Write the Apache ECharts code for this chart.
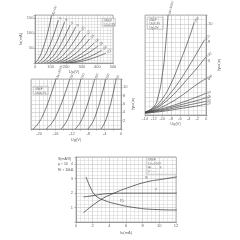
<!DOCTYPE html>
<html>
<head>
<meta charset="utf-8">
<script src="https://cdn.jsdelivr.net/npm/echarts@6/dist/echarts.min.js"></script>
<style>
html, body { margin: 0; background: #fff; }
#chart { width: 240px; height: 240px; }
</style>
</head>
<body>
<div id="chart"></div>
<script>
// --- chart 1: Ia = f(Ua), one curve per grid voltage
var names1 = ['Ug=0V', '-2', '-4', '-6', '-8', '-10', '-12', '-14', '-16', '-18', '-20', '-22'];
var ua1 = [
    [0, 26, 53, 80, 106],
    [18, 51, 84, 117, 150],
    [38, 76, 114, 152, 190],
    [58, 100, 142, 183, 225],
    [78, 124, 169, 215, 260],
    [100, 148, 195, 243, 290],
    [120, 171, 223, 274, 325],
    [140, 193, 245, 298, 350],
    [162, 217, 271, 326, 380],
    [182, 238, 294, 349, 405],
    [204, 261, 317, 374, 430],
    [225, 283, 340, 398, 455]
];
var ia1 = [
    [0, 17, 52, 99, 157],
    [0, 16, 47, 90, 143],
    [0, 15, 45, 86, 137],
    [0, 14, 42, 80, 127],
    [0, 13, 40, 76, 120],
    [0, 12, 35, 67, 107],
    [0, 10, 31, 59, 93],
    [0, 9, 26, 50, 80],
    [0, 7, 22, 42, 67],
    [0, 6, 19, 36, 57],
    [0, 5, 14, 27, 43],
    [0, 4, 11, 21, 33]
];

// --- chart 2: Ia = f(Ug), one curve per anode voltage
var names2 = ['Ua=300V', '250', '200', '150', '100', '80', '60', '40', '20'];
var ug2 = [
    [-14, -12, -11, -10, -9.3, -8.7],
    [-14, -12, -10, -8, -6, -4, -2.7],
    [-14, -12, -10, -8, -6, -4, -2, -0.3],
    [-14, -12, -10, -8, -6, -4, -2, 0],
    [-14, -12, -10, -8, -6, -4, -2, 0],
    [-14, -10, -6, -2, 0],
    [-14, -10, -6, -2, 0],
    [-14, -10, -6, -2, 0],
    [-14, -10, -6, -2, 0]
];
var ia2 = [
    [0.3, 0.9, 2.0, 4.5, 7.5, 11],
    [0.3, 0.8, 1.8, 3.5, 5.8, 8.3, 10.2],
    [0.3, 0.7, 1.4, 2.5, 3.8, 5.3, 6.9, 8.3],
    [0.3, 0.6, 1.2, 2.0, 3.0, 4.1, 5.2, 6.4],
    [0.3, 0.5, 0.9, 1.4, 2.0, 2.7, 3.4, 4.0],
    [0.25, 0.7, 1.3, 2.0, 2.4],
    [0.25, 0.6, 1.1, 1.6, 1.9],
    [0.2, 0.5, 0.9, 1.3, 1.5],
    [0.2, 0.4, 0.7, 1.0, 1.2]
];

// --- chart 3: Ia = f(Ug), steep family
var names3 = ['Ua=300V', '250', '200', '150', '100', '50'];
var ug3 = [
    [-21.5, -20.1, -18.7, -17.3, -15.9],
    [-18.3, -16.85, -15.4, -13.95, -12.5],
    [-14.7, -13.5, -12.25, -11.0, -9.8],
    [-11.2, -10.0, -8.8, -7.6, -6.4],
    [-8.1, -7.0, -5.9, -4.8, -3.7],
    [-4.9, -4.0, -3.05, -2.1, -1.2]
];
var ia3 = [
    [0, 1.5, 4.2, 7.8, 12],
    [0, 1.5, 4.2, 7.8, 12],
    [0, 1.5, 4.2, 7.8, 12],
    [0, 1.5, 4.2, 7.8, 12],
    [0, 1.5, 4.2, 7.8, 12],
    [0, 1.5, 4.2, 7.8, 12]
];

// --- chart 4: S, mu, Ri = f(Ia)
var iaS = [0.9, 2.9, 4.5, 6.5, 8.5, 10.1, 12.1];
var valS = [0.64, 1.52, 1.98, 2.43, 2.78, 2.94, 3.12];
var iaMu = [0.9, 2, 3, 4, 6, 8, 10, 12.1];
var valMu = [1.74, 1.82, 1.92, 1.97, 2.0, 2.0, 2.0, 2.0];
var iaRi = [1.2, 1.7, 2.3, 3.3, 4.9, 6.9, 9.3, 12.1];
var valRi = [3.12, 2.43, 1.86, 1.52, 1.24, 1.01, 0.87, 0.83];

var LINE = '#444';
var TXT = '#6a6a6a';

function pairs(xs, ys) {
    return xs.map(function (x, j) { return [x, ys[j]]; });
}

function axis(idx, min, max, interval, minorSplit, extra) {
    var a = {
        type: 'value',
        gridIndex: idx,
        min: min,
        max: max,
        interval: interval,
        axisLine: { show: true, lineStyle: { color: '#888', width: 0.7 } },
        axisTick: { show: true, length: 1.5, lineStyle: { color: '#888', width: 0.6 } },
        axisLabel: { fontSize: 4, color: TXT, margin: 2 },
        splitLine: { show: true, lineStyle: { color: '#b4b4b4', width: 0.5 } },
        minorTick: { show: false, splitNumber: minorSplit },
        minorSplitLine: { show: true, lineStyle: { color: '#d2d2d2', width: 0.5 } },
        nameTextStyle: { fontSize: 4, color: TXT },
        nameLocation: 'middle'
    };
    for (var k in extra) a[k] = extra[k];
    return a;
}

function family(gridIdx, xs, ys, names, rot) {
    return xs.map(function (x, i) {
        return {
            type: 'line',
            xAxisIndex: gridIdx,
            yAxisIndex: gridIdx,
            smooth: true,
            showSymbol: false,
            silent: true,
            data: pairs(x, ys[i]),
            lineStyle: { color: LINE, width: 0.7 },
            endLabel: {
                show: true,
                formatter: names[i],
                fontSize: 3.5,
                color: TXT,
                rotate: rot[i],
                distance: 1
            }
        };
    });
}

var rot1 = [70, 65, 65, 60, 60, 55, 55, 50, 50, 45, 45, 40];
var rot2 = [75, 60, 50, 40, 30, 15, 15, 15, 15];
var rot3 = [70, 70, 70, 70, 70, 70];

var series = []
    .concat(family(0, ua1, ia1, names1, rot1))
    .concat(family(1, ug2, ia2, names2, rot2))
    .concat(family(2, ug3, ia3, names3, rot3));

[[iaS, valS], [iaMu, valMu], [iaRi, valRi]].forEach(function (s) {
    series.push({
        type: 'line',
        xAxisIndex: 3,
        yAxisIndex: 3,
        smooth: true,
        showSymbol: false,
        silent: true,
        data: pairs(s[0], s[1]),
        lineStyle: { color: LINE, width: 0.8 }
    });
});

function box(x, y, w, h, lines) {
    return {
        type: 'group',
        left: x, top: y,
        children: [
            { type: 'rect', shape: { width: w, height: h }, style: { fill: '#fff', stroke: '#999', lineWidth: 0.5 } },
            { type: 'text', left: 2, top: 1.5, style: { text: lines.join('\n'), fontSize: 3, lineHeight: 3.6, fill: '#555' } }
        ]
    };
}

function noZero(max) {
    return function (v) { return v && v <= max ? v : ''; };
}

var option = {
    backgroundColor: '#fff',
    animation: false,
    grid: [
        { left: 35, top: 15, width: 78, height: 48, show: true, borderColor: '#888', borderWidth: 0.6 },
        { left: 145, top: 15, width: 61, height: 100, show: true, borderColor: '#888', borderWidth: 0.6 },
        { left: 31, top: 79, width: 90, height: 50, show: true, borderColor: '#888', borderWidth: 0.6 },
        { left: 76, top: 157, width: 100, height: 65, show: true, borderColor: '#888', borderWidth: 0.6 }
    ],
    xAxis: [
        axis(0, 0, 500, 100, 5, { name: 'Ua(V)', nameGap: 6 }),
        axis(1, -14, 0, 2, 2, { name: 'Ug(V)', nameGap: 7 }),
        axis(2, -22, 0, 2, 2, {
            name: 'Ug(V)', nameGap: 9,
            axisLabel: { fontSize: 4, color: TXT, margin: 3, formatter: function (v) { return v % 4 === 0 ? v : ''; } }
        }),
        axis(3, 0, 12, 2, 4, { name: 'Ia(mA)', nameGap: 9 })
    ],
    yAxis: [
        axis(0, 0, 160, 50, 5, {
            name: 'Ia(mA)', nameGap: 9,
            axisLabel: { fontSize: 4, color: TXT, margin: 1.5, formatter: noZero(150) }
        }),
        axis(1, 0, 11, 2, 4, {
            position: 'right', name: 'Ia(mA)', nameGap: 11, nameRotate: -90,
            axisLabel: { fontSize: 4, color: TXT, margin: 2, formatter: noZero(10) }
        }),
        axis(2, 0, 12, 2, 2, {
            position: 'right', name: 'Ia(mA)', nameGap: 10, nameRotate: -90,
            axisLabel: { fontSize: 4, color: TXT, margin: 2, formatter: noZero(10) }
        }),
        axis(3, 0, 4.5, 1, 4, {
            axisLabel: { fontSize: 4, color: TXT, margin: 3, formatter: noZero(4) }
        })
    ],
    series: series,
    graphic: [
        box(102, 18, 13, 8, ['6N6P', 'Uf=6.3V']),
        box(147, 17, 16, 12, ['6N6P', 'Uf=6.3V', 'Ug=0V']),
        box(33, 86, 15, 8, ['6N6P', 'Uf=6.3V']),
        box(146, 157, 30, 17, ['6N6P', 'Ua=250V', 'Ri ——  S', 'μ ——']),
        { type: 'text', left: 58, top: 156, style: { text: 'S(mA/V)\nμ ÷ 10\nRi ÷ 10kΩ', fontSize: 3.5, lineHeight: 5.5, fill: '#555' } },
        { type: 'text', left: 145, top: 176, style: { text: 'S', fontSize: 4, fill: '#555' } },
        { type: 'text', left: 155, top: 187, style: { text: 'μ', fontSize: 4, fill: '#555' } },
        { type: 'text', left: 120, top: 199, style: { text: 'Ri', fontSize: 4, fill: '#555' } }
    ]
};

echarts.init(document.getElementById('chart')).setOption(option);
</script>
</body>
</html>
